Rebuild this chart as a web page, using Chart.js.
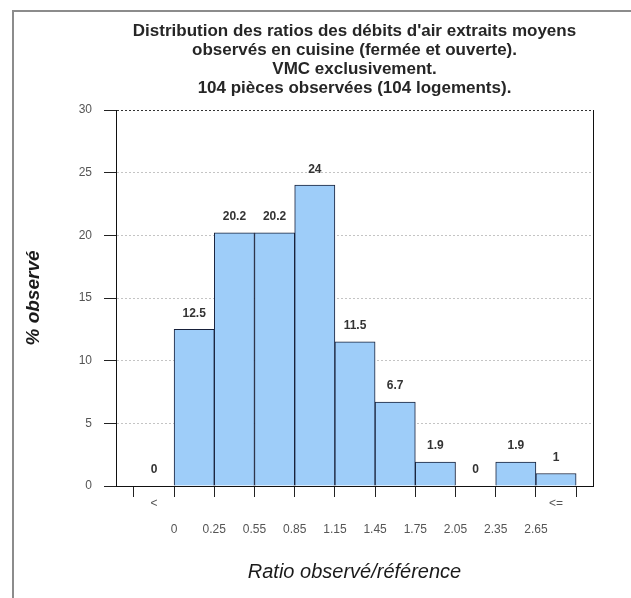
<!DOCTYPE html>
<html lang="fr">
  <head>
    <meta charset="UTF-8" />
    <script src="https://cdn.jsdelivr.net/npm/chart.js"></script>
    <style>
      html, body { margin: 0; padding: 0; background: #fff; }
      .wrap { position: relative; width: 631px; height: 598px; overflow: hidden; }
      .frame {
        position: absolute; left: 12px; top: 10px; width: 700px; height: 700px;
        border-top: 2px solid #8c8c8c; border-left: 2px solid #8c8c8c;
      }
      canvas { position: absolute; left: 0; top: 0; }
    </style>
    <title>Ratio observé/référence</title>
  </head>
  <body>
    <div class="wrap">
      <div class="frame"></div>
      <canvas id="histo" width="631" height="598"></canvas>
    </div>
    <script>
      // classes : "<", puis intervalles de 0 à 2.65, puis "<="
      const binLabels = ["<", "0-0.25", "0.25-0.55", "0.55-0.85", "0.85-1.15", "1.15-1.45", "1.45-1.75", "1.75-2.05", "2.05-2.35", "2.35-2.65", "<="];
      const pctObserved = [0, 12.5, 20.2, 20.2, 24, 11.5, 6.7, 1.9, 0, 1.9, 1];
      // libellés aux bornes des barres (de la borne gauche de "<" à la borne droite de "<=")
      const edgeLabels = ["", "0", "0.25", "0.55", "0.85", "1.15", "1.45", "1.75", "2.05", "2.35", "2.65", ""];
      const yTicks = [0, 5, 10, 15, 20, 25, 30];

      const labelFont = "'Liberation Sans', Arial, sans-serif";
      const xMin = -0.945;
      const xMax = 10.92;

      // valeurs au-dessus des barres
      const valueLabels = {
        id: "valueLabels",
        afterDatasetsDraw(chart) {
          const ctx = chart.ctx;
          const meta = chart.getDatasetMeta(0);
          ctx.save();
          ctx.font = "bold 12px " + labelFont;
          ctx.fillStyle = "#333";
          ctx.textAlign = "center";
          ctx.textBaseline = "middle";
          meta.data.forEach((bar, i) => {
            ctx.fillText(String(pctObserved[i]), bar.x, bar.y - 16);
          });
          ctx.restore();
        },
      };

      const ctx = document.getElementById("histo").getContext("2d");

      new Chart(ctx, {
        type: "bar",
        data: {
          labels: binLabels,
          datasets: [
            {
              label: "% observé",
              xAxisID: "xBars",
              data: pctObserved.map((v, i) => ({ x: i, y: v })),
              backgroundColor: "#9ecdf9",
              borderColor: "#17203a",
              borderWidth: 1,
              borderSkipped: "bottom",
              barPercentage: 1,
              categoryPercentage: 1,
            },
          ],
        },
        options: {
          responsive: false,
          animation: false,
          layout: { padding: { left: 0, right: 38, top: 0, bottom: 0 } },
          plugins: {
            legend: { display: false },
            tooltip: { enabled: false },
            title: {
              display: true,
              fullSize: false,
              text: [
                "Distribution des ratios des débits d'air extraits moyens",
                "observés en cuisine (fermée et ouverte).",
                "VMC exclusivement.",
                "104 pièces observées (104 logements).",
              ],
              color: "#262626",
              font: { family: labelFont, size: 17, weight: "bold", lineHeight: "19px" },
              padding: { top: 22, bottom: 12 },
            },
          },
          scales: {
            // axe porteur des barres (invisible), une graduation par classe
            xBars: {
              type: "linear",
              display: false,
              offset: false,
              min: xMin,
              max: xMax,
              afterBuildTicks(scale) {
                scale.ticks = binLabels.map((_, i) => ({ value: i }));
              },
            },
            x: {
              type: "linear",
              offset: false,
              min: xMin,
              max: xMax,
              afterBuildTicks(scale) {
                const t = [];
                for (let i = 0; i < edgeLabels.length; i++) t.push({ value: i - 0.5 });
                t.push({ value: 0 }, { value: binLabels.length - 1 });
                t.sort((a, b) => a.value - b.value);
                scale.ticks = t;
              },
              afterFit(scale) {
                scale.height = 112;
              },
              ticks: {
                autoSkip: false,
                maxRotation: 0,
                padding: 0,
                color: "#555",
                font: { family: labelFont, size: 12, lineHeight: "13px" },
                callback(value) {
                  if (value === 0) return binLabels[0];
                  if (value === binLabels.length - 1) return binLabels[binLabels.length - 1];
                  const idx = Math.round(value + 0.5);
                  return ["", "", edgeLabels[idx]];
                },
              },
              grid: {
                offset: false,
                drawOnChartArea: false,
                drawTicks: true,
                tickLength: 11,
                tickColor: (c) => (c.tick && Number.isInteger(c.tick.value) ? "rgba(0,0,0,0)" : "#222"),
              },
              border: { display: true, color: "#111", width: 1 },
              title: {
                display: true,
                text: "Ratio observé/référence",
                color: "#1a1a1a",
                font: { family: labelFont, size: 20, style: "italic" },
                padding: { top: 0, bottom: 14 },
              },
            },
            y: {
              min: 0,
              max: 30,
              afterBuildTicks(scale) {
                scale.ticks = yTicks.map((v) => ({ value: v }));
              },
              afterFit(scale) {
                scale.width = 116;
              },
              ticks: {
                padding: 12,
                color: "#555",
                font: { family: labelFont, size: 12 },
              },
              grid: {
                drawTicks: true,
                tickLength: 12,
                tickColor: "#222",
                color: (c) => (c.tick && c.tick.value === 30 ? "#333" : "#c4c4c4"),
              },
              border: { display: true, color: "#111", width: 1, dash: [2, 2] },
              title: {
                display: true,
                text: "% observé",
                color: "#1a1a1a",
                font: { family: labelFont, size: 19, style: "italic", weight: "bold" },
                padding: { top: 22, bottom: 0 },
              },
            },
            yRight: {
              position: "right",
              min: 0,
              max: 30,
              afterFit(scale) {
                scale.width = 0;
              },
              ticks: { display: false },
              grid: { display: false },
              border: { display: true, color: "#111", width: 1 },
            },
          },
        },
        plugins: [valueLabels],
      });
    </script>
  </body>
</html>
